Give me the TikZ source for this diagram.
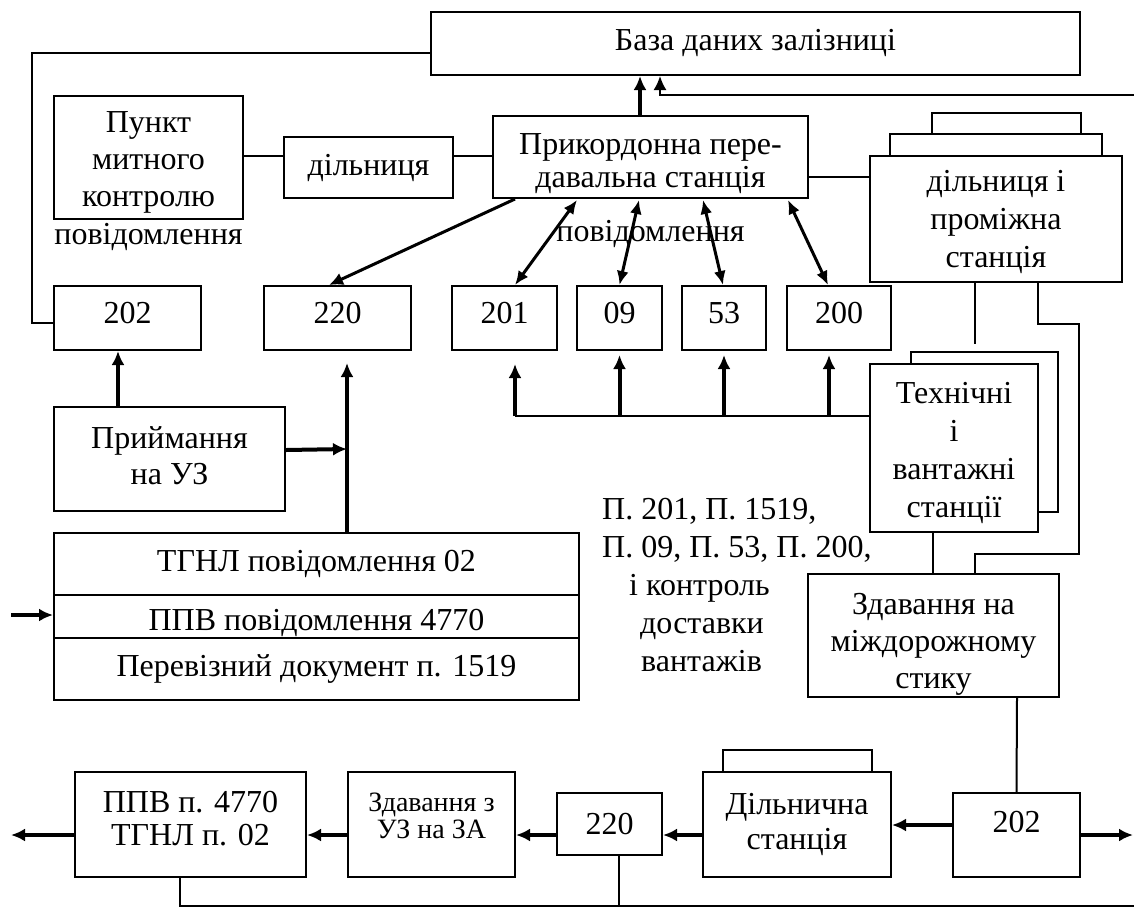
\documentclass[tikz,border=0pt]{standalone}
\usepackage{fontspec}
\setmainfont{Liberation Serif}
\usetikzlibrary{arrows.meta,positioning,calc}

% struts to move a box text down / up
\newcommand{\tdn}[1]{\rule{0pt}{#1pt}}
\newcommand{\tup}[1]{\rule[-#1pt]{0pt}{0pt}}

\begin{document}
\begin{tikzpicture}[
    x=1pt, y=-1pt,
    font=\fontsize{32}{37}\selectfont,
    box/.style={rectangle, draw, line width=2pt, inner sep=0pt, align=center},
    lbl/.style={inner sep=0pt, align=center},
    line/.style={line width=2pt},
    arr/.style={line width=4pt, -{Latex[length=14pt,width=13pt]}},
    darr/.style={line width=3pt, {Latex[length=14pt,width=12pt]}-{Latex[length=14pt,width=12pt]}}
]
    \useasboundingbox (0,0) rectangle (1134,908);

    % top part
    \node[box, minimum width=649pt, minimum height=63pt] (db) at (755.5,43.5) {База даних залізниці\tup{8}};
    \node[box, minimum width=189pt, minimum height=123pt] (customs) at (148.5,157.5) {\tdn{31}Пункт\\митного\\контролю};
    \node[lbl, below=3pt of customs] (msgA) {повідомлення};
    \node[box, minimum width=169pt, minimum height=61pt] (sect) at (368.5,167.5) {дільниця};
    \node[box, minimum width=315pt, minimum height=82pt, font=\fontsize{32}{33}\selectfont] (border) at (650.5,157) {\tdn{35}Прикордонна пере-\\давальна станція};
    \node[lbl, below=21pt of border] (msgB) {повідомлення};
    \node[box, minimum width=252pt, minimum height=126pt, font=\fontsize{32}{38}\selectfont] (stack) at (996,219) {\tdn{28}дільниця і\\проміжна\\станція};
    \draw[line] ([xshift=21pt]stack.north west) -- ++(0,-21) -| ([xshift=-21pt]stack.north east);
    \draw[line] ([xshift=63pt,yshift=21pt]stack.north west) -- ++(0,-21) -| ([xshift=-42pt,yshift=21pt]stack.north east);

    % message row
    \node[box, minimum width=147pt, minimum height=64pt] (r202) at (127.5,318) {202\tup{10}};
    \node[box, minimum width=147pt, minimum height=64pt] (r220) at (337.5,318) {220\tup{10}};
    \node[box, minimum width=105pt, minimum height=64pt] (r201) at (504.5,318) {201\tup{10}};
    \node[box, minimum width=85pt, minimum height=64pt] (r09) at (619.5,318) {09\tup{10}};
    \node[box, minimum width=84pt, minimum height=64pt] (r53) at (724,318) {53\tup{10}};
    \node[box, minimum width=104pt, minimum height=64pt] (r200) at (839,318) {200\tup{10}};

    % middle part
    \node[box, minimum width=231pt, minimum height=104pt, font=\fontsize{32}{36}\selectfont] (accept) at (169.5,459) {Приймання\\на УЗ\tup{6}};
    \node[box, minimum width=525pt, minimum height=62pt] (tgnl) at (316.5,564) {ТГНЛ повідомлення 02};
    \node[box, minimum width=525pt, minimum height=43pt, below=-2pt of tgnl] (ppv) {\tdn{34}ППВ повідомлення 4770};
    \node[box, minimum width=525pt, minimum height=62pt, below=-2pt of ppv] (doc) {Перевізний документ п. 1519};
    \node[box, minimum width=168pt, minimum height=168pt, font=\fontsize{32}{38}\selectfont] (tech) at (954,448) {\tdn{32}Технічні\\і\\вантажні\\станції};
    \draw[line] ([xshift=42pt]tech.north west) -- ++(0,-11) -- ++(147,0) |- ([yshift=21pt]tech.south east);
    \node[lbl, align=left, anchor=north west, font=\fontsize{32}{38}\selectfont] (deliv) at (602,498)
        {П. 201, П. 1519,\\П. 09, П. 53, П. 200,\\\hspace*{27pt}і контроль\\\hspace*{38pt}доставки\\\hspace*{39pt}вантажів};
    \node[box, minimum width=251pt, minimum height=123pt, font=\fontsize{32}{37}\selectfont] (handover) at (933.5,635.5) {\tdn{38}Здавання на\\міждорожному\\стику};

    % bottom row
    \node[box, minimum width=231pt, minimum height=105pt, font=\fontsize{32}{33}\selectfont] (ppvout) at (190.5,824.5) {ППВ п. 4770\\ТГНЛ п. 02\tup{12}};
    \node[box, minimum width=167pt, minimum height=105pt, font=\fontsize{28}{27}\selectfont] (handUZ) at (431.5,824.5) {Здавання з\\УЗ на ЗА\tup{18}};
    \node[box, minimum width=105pt, minimum height=62pt] (b220) at (609.5,824) {220};
    \node[box, minimum width=188pt, minimum height=105pt, font=\fontsize{32}{35}\selectfont] (district) at (797,824.5) {Дільнична\\станція};
    \draw[line] ([xshift=21pt]district.north west) -- ++(0,-21) -| ([xshift=-20pt]district.north east);
    \node[box, minimum width=127pt, minimum height=84pt] (b202) at (1016.5,835) {202\tup{26}};

    % links to the data base
    \draw[arr] ($(border.north)+(-10.5,0)$) -- ($(db.south)+(-115.5,0)$);
    \coordinate (dbin) at (1134,95);
    \draw[arr, line width=2pt] (dbin) -| ($(db.south)+(-95.5,0)$);
    \draw[line] ($(db.west)+(0,9.5)$) -- ++(-398,0) |- ($(r202.west)+(0,5)$);

    \draw[line] ($(customs.east)+(0,-1.5)$) -- ($(sect.west)+(0,-11.5)$);
    \draw[line] ($(sect.east)+(0,-11.5)$) -- ($(border.west)+(0,-1)$);
    \draw[line] ($(border.east)+(0,20)$) -- ($(stack.west)+(0,-42)$);

    % messages
    \draw[arr, line width=3pt] ($(border.south)+(-135.5,0)$) -- ($(r220.north)+(-8.5,0)$);
    \foreach \b/\sx/\ex in {r201/-73.5/10.5, r09/-11.5/0, r53/52.5/-1, r200/137.5/-11}
        \draw[darr] ($(border.south)+(\sx,1)$) -- ($(\b.north)+(\ex,0)$);

    \coordinate (bus) at ($(tech.west)+(0,-32)$);
    \draw[line] (bus) -- ($(r201.south |- bus)+(10.5,0)$);
    \foreach \b/\dx/\gap in {r201/10.5/13, r09/0/4, r53/0/4, r200/-10/4}
        \draw[arr] ($(\b.south |- bus)+(\dx,0)$) -- ($(\b.south)+(\dx,\gap)$);

    \draw[arr] ($(accept.north)+(-51.5,0)$) -- ($(r202.south)+(-9.5,0)$);
    \draw[arr] ($(tgnl.north)+(30.5,0)$) -- ($(r220.south)+(9.5,12)$);
    \draw[arr] ($(accept.east)+(0,-9)$) -- ($(tgnl.north)+(30.5,-83)$);
    \coordinate (inL) at (11,615);
    \draw[arr] (inL) -- (inL -| ppv.west);

    % right side
    \draw[line] ($(stack.south)+(-21,0)$) -- ++(0,61);
    \draw[line] ($(stack.south)+(42,0)$) -- ++(0,41) -- ++(41,0) -- ++(0,230) -| ($(handover.north)+(41.5,0)$);
    \draw[line] ($(tech.south)+(-21,0)$) -- ($(handover.north)+(-0.5,0)$);
    \draw[line] ($(handover.south)+(83.5,0)$) -- (b202.north);

    % bottom chain
    \draw[arr] ($(b202.west)+(0,-10)$) -- ($(district.east)+(0,0.5)$);
    \draw[arr] ($(district.west)+(0,10.5)$) -- ($(b220.east)+(0,11)$);
    \draw[arr] ($(b220.west)+(0,11)$) -- ($(handUZ.east)+(0,10.5)$);
    \draw[arr] ($(handUZ.west)+(0,10.5)$) -- ($(ppvout.east)+(0,10.5)$);
    \coordinate (outL) at (11,835);
    \coordinate (outR) at (1133,835);
    \draw[arr] ($(ppvout.west)+(0,10.5)$) -- (outL);
    \draw[arr] (b202.east) -- (outR);
    \coordinate (botR) at (1134,906);
    \draw[line] ($(ppvout.south)+(-10.5,0)$) |- (botR);
    \draw[line] ($(b220.south)+(9.5,0)$) -- ++(0,51);
\end{tikzpicture}
\end{document}
